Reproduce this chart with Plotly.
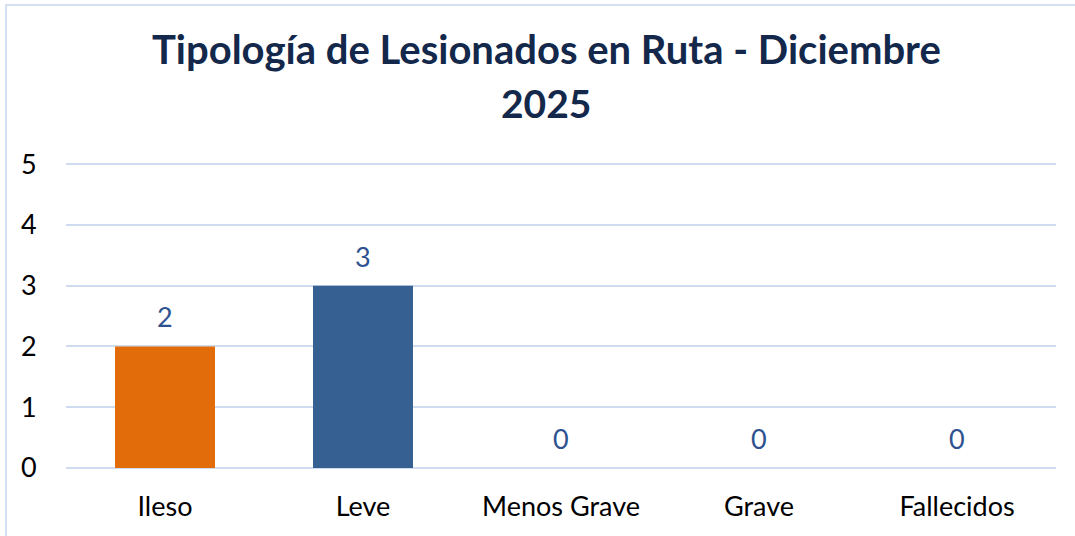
import plotly.graph_objects as go

categories = ["Ileso", "Leve", "Menos Grave", "Grave", "Fallecidos"]
values = [2, 3, 0, 0, 0]
bar_colors = ["#E36C0A", "#376092", "#376092", "#376092", "#376092"]
y_ticks = [0, 1, 2, 3, 4, 5]
title_line1 = "Tipología de Lesionados en Ruta - Diciembre"
title_line2 = "2025"

FONT = "Lato"
W, H = 1075, 536
L, R, T, B = 66, 19, 163, 68
pw, ph = W - L - R, H - T - B
Y_MAX = 5.02

def px_x(x):
    return (x - L) / pw

def px_y(y):
    return (H - B - y) / ph

fig = go.Figure()
fig.add_trace(go.Bar(
    x=categories, y=values, marker=dict(color=bar_colors, line=dict(width=0)),
    width=0.505, hoverinfo="skip",
))

annotations = []
for c, v in zip(categories, values):
    annotations.append(dict(x=c, y=v, xref="x", yref="y", text=str(v), showarrow=False,
                            yanchor="bottom", yshift=11,
                            font=dict(family=FONT, size=27, color="#2E5290")))
annotations.append(dict(x=px_x(546), y=px_y(49), xref="paper", yref="paper", text="<b>" + title_line1 + "</b>",
                        showarrow=False, xanchor="center", yanchor="middle",
                        font=dict(family=FONT, size=40, color="#13284A")))
annotations.append(dict(x=px_x(546), y=px_y(103), xref="paper", yref="paper", text="<b>" + title_line2 + "</b>",
                        showarrow=False, xanchor="center", yanchor="middle",
                        font=dict(family=FONT, size=39, color="#13284A")))

fig.update_layout(
    width=W, height=H,
    margin=dict(l=L, r=R, t=T, b=B, pad=0),
    paper_bgcolor="white", plot_bgcolor="white",
    showlegend=False,
    annotations=annotations,
    shapes=[dict(type="rect", xref="paper", yref="paper",
                 x0=px_x(6), x1=px_x(1100), y0=px_y(560), y1=px_y(5),
                 line=dict(color="#D5E1F2", width=2), fillcolor="rgba(0,0,0,0)", layer="below")],
    xaxis=dict(showgrid=False, showline=False, zeroline=False,
               ticks="outside", ticklen=15, tickcolor="rgba(0,0,0,0)",
               tickfont=dict(family=FONT, size=27, color="#000000")),
    yaxis=dict(range=[0, Y_MAX], tickvals=y_ticks, showgrid=True, gridcolor="#CFDCEF", gridwidth=2,
               zeroline=True, zerolinecolor="#CFDCEF", zerolinewidth=2, showline=False,
               ticks="outside", ticklen=23, tickcolor="rgba(0,0,0,0)",
               tickfont=dict(family=FONT, size=27, color="#000000")),
)

fig.write_html("out.html", config={"displayModeBar": False, "staticPlot": True},
               post_script="document.body.style.margin='0';document.body.style.overflow='hidden';")
